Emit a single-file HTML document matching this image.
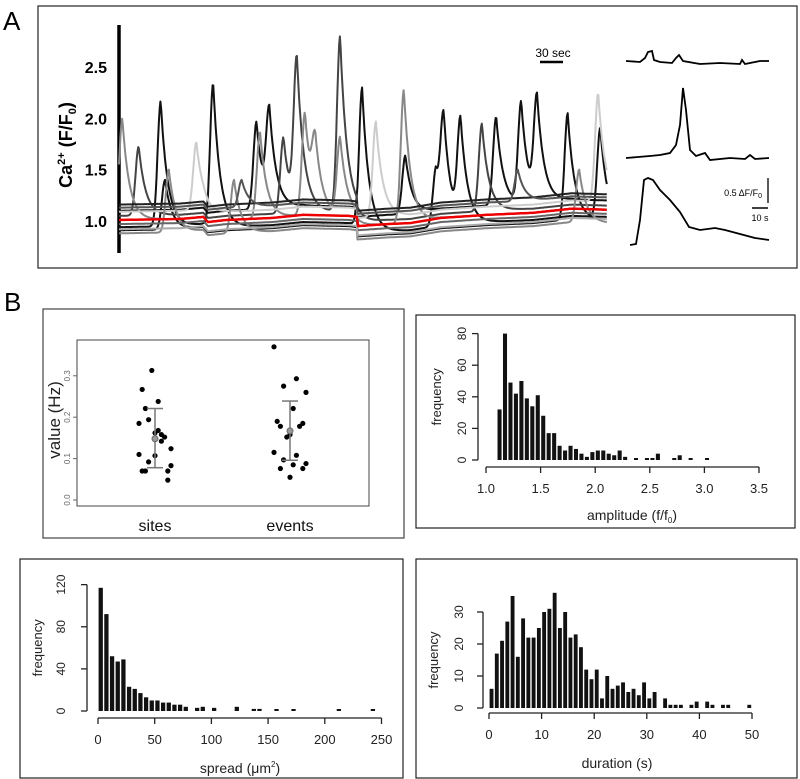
<!DOCTYPE html>
<html><head><meta charset="utf-8"><style>
body{margin:0;background:#fff;}
svg{display:block;font-family:"Liberation Sans",sans-serif;}
</style></head><body>
<svg id="fig" width="800" height="779" viewBox="0 0 800 779">
<text x="3" y="30" font-size="26">A</text>
<rect x="38" y="6" width="759" height="262" fill="none" stroke="#222" stroke-width="1.2"/>
<g id="pa"></g>
<g id="ins"></g>
<text x="553" y="57" font-size="12" text-anchor="middle">30 sec</text>
<line x1="540" y1="62" x2="563" y2="62" stroke="#000" stroke-width="2.5"/>
<text x="762" y="196" font-size="9" text-anchor="end">0.5 ΔF/F<tspan font-size="7" dy="2">0</tspan></text>
<line x1="768" y1="178" x2="768" y2="203" stroke="#000" stroke-width="1.3"/>
<line x1="752" y1="208" x2="768" y2="208" stroke="#000" stroke-width="1.5"/>
<text x="760" y="221" font-size="9" text-anchor="middle">10 s</text>
<text transform="translate(72,145) rotate(-90)" font-size="18" font-weight="bold" text-anchor="middle">Ca<tspan font-size="11" dy="-7">2+</tspan><tspan dy="7"> (F/F</tspan><tspan font-size="11" dy="4">0</tspan><tspan dy="-4">)</tspan></text>

<text x="4" y="311" font-size="26">B</text>
<rect x="43" y="309" width="361" height="229" fill="none" stroke="#444" stroke-width="1.2"/>
<rect x="77" y="340" width="292" height="166" fill="none" stroke="#444" stroke-width="1"/>
<g id="dp"></g>
<text transform="translate(60,420) rotate(-90)" font-size="17" fill="#222" text-anchor="middle">value (Hz)</text>

<rect x="416" y="315" width="379" height="213" fill="none" stroke="#222" stroke-width="1.2"/>
<g id="h1"></g>
<rect x="20" y="559" width="383" height="219" fill="none" stroke="#222" stroke-width="1.2"/>
<g id="h2"></g>
<rect x="416" y="559" width="381" height="219" fill="none" stroke="#222" stroke-width="1.2"/>
<g id="h3"></g>
</svg>
<script>
// ---------- Panel A data ----------
const yTicksA = [1.0, 1.5, 2.0, 2.5];
const redTimes = [0, 80, 110, 116, 140, 200, 240, 300, 310, 311, 350, 380, 420, 480, 540, 590, 636];
const redValues = [1.01, 1.02, 1.04, 0.99, 1.01, 1.03, 1.06, 1.05, 1.04, 0.95, 0.97, 0.98, 1.03, 1.06, 1.08, 1.12, 1.11];
const traceColors = ["#111", "#111", "#111", "#444", "#888", "#ccc", "#888", "#666", "#222", "#aaa", "#555"];
const traceOffsets = [-0.07, 0.09, -0.1, 0.04, 0.0, 0.08, -0.13, -0.04, 0.15, -0.09, 0.12];
const tracePeakTimes = [
  [54.4, 122.8, 317, 413.3, 423.3, 445.3],
  [179.3, 196, 373.4, 491.8, 524.4, 545],
  [585, 627.5, 60],
  [25.7, 214.5, 231.9, 288.3, 473.2],
  [4.4, 183.9, 242.5, 255.8, 288.3, 371.4],
  [100.9, 335, 624.8],
  [65, 150, 600],
  [], [], [], [160, 520]
];
const tracePeakValues = [
  [2.17, 2.35, 2.3, 1.5, 1.9, 1.93],
  [1.97, 2.0, 1.64, 2.02, 2.15, 2.15],
  [2.05, 1.9, 1.4],
  [1.73, 1.82, 2.52, 2.8, 1.95],
  [2.0, 1.87, 2.06, 1.65, 1.8, 2.28],
  [1.77, 1.97, 2.25],
  [1.5, 1.4, 1.5],
  [], [], [], [1.4, 1.5]
];
// ---------- Panel B data ----------
const dotCategories = ["sites", "events"];
const sitesValues = [0.185,0.142,0.092,0.083,0.168,0.07,0.048,0.107,0.07,0.152,0.313,0.11,0.158,0.194,0.124,0.238,0.221,0.07,0.162,0.267];
const eventsValues = [0.37,0.293,0.275,0.26,0.221,0.178,0.185,0.158,0.19,0.178,0.152,0.115,0.108,0.097,0.088,0.085,0.076,0.076,0.055];
const meanValues = [0.148, 0.167];
const errLow = [0.078, 0.096];
const errHigh = [0.221, 0.239];
const dotYTicks = ["0.0", "0.1", "0.2", "0.3"];
const ampBinStart = 1.10, ampBinWidth = 0.05;
const ampCounts = [32,80,49,42,50,39,34,41,28,17,17,9,6,9,7,4,2,5,6,6,4,3,6,2,0,1,0,1,1,4,0,0,1,3,0,1,0,0,1];
const ampXTicks = ["1.0","1.5","2.0","2.5","3.0","3.5"];
const ampYTicks = [0,20,40,60,80];
const spreadBinWidth = 5;
const spreadCounts = [117,92,52,47,49,23,21,17,13,10,10,8,8,6,6,4,0,3,4,0,3,0,0,0,4,0,0,2,2,0,0,0.5,0,0,0.5,0,0,0,0,0,0,0,0.5,0,0,0,0,0,0.5];
const spreadXTicks = [0,50,100,150,200,250];
const spreadYTicks = [0,40,80,120];
const durBinWidth = 1;
const durCounts = [6,17,21,27,35,16,28,22,22,25,30,31,36,25,30,22,23,19,12,9,12,3,10,6,7,8,5,6,4,8,3,5,0,3,1,1,1,0,1,2,0,2,1,0,1,1,0,0,0,1];
const durXTicks = [0,10,20,30,40,50];
const durYTicks = [0,10,20,30];

const NS = "http://www.w3.org/2000/svg";
function mk(parent, tag, attrs, text){
  const e = document.createElementNS(NS, tag);
  for (const k in attrs) e.setAttribute(k, attrs[k]);
  if (text !== undefined) e.textContent = text;
  parent.appendChild(e);
  return e;
}
// ----- Panel A -----
const pa = document.getElementById("pa");
const xA = t => 119 + t * 0.767;
const yA = v => 221 - (v - 1.0) * 102.67;
function redAt(t){
  for (let i = 1; i < redTimes.length; i++){
    if (t <= redTimes[i]){
      const a = redTimes[i-1], b = redTimes[i];
      const f = b === a ? 1 : (t - a) / (b - a);
      return redValues[i-1] + f * (redValues[i] - redValues[i-1]);
    }
  }
  return redValues[redValues.length - 1];
}
const axA = mk(pa, "line", {x1:119, y1:25, x2:119, y2:253, stroke:"#000", "stroke-width":3.5});


yTicksA.forEach(v => {
  const t = mk(pa, "text", {x:107, y:yA(v)+6, "font-size":16, "font-weight":"bold", "text-anchor":"end"}, v.toFixed(1));
  
  
});
traceColors.forEach((col, i) => {
  const pts = [];
  for (let t = 0; t <= 636; t += 1){
    const base = redAt(t) + traceOffsets[i];
    let v = base;
    tracePeakTimes[i].forEach((pt, j) => {
      const h = Math.max(0, tracePeakValues[i][j] - base);
      const d = t - pt;
      const s = d < 0 ? Math.exp(-(d*d)/(2*4*4)) : Math.exp(-d/9);
      v += h * s;
    });
    pts.push(xA(t).toFixed(1) + "," + yA(v).toFixed(1));
  }
  const p = mk(pa, "polyline", {points:pts.join(" "), fill:"none", stroke:col, "stroke-width":2, "stroke-linejoin":"round"});
  
  
});
{
  const pts = [];
  for (let t = 0; t <= 636; t += 2) pts.push(xA(t).toFixed(1) + "," + yA(redAt(t)).toFixed(1));
  const p = mk(pa, "polyline", {points:pts.join(" "), fill:"none", stroke:"#e00", "stroke-width":2.5});
  
  
}
// ----- insets -----
const ins = document.getElementById("ins");
const insetPaths = [
  "M626,61 L640,62 L645,58 L648,52 L652,51 L654,60 L660,62 L672,63 L676,58 L679,55 L683,61 L700,64 L720,63 L740,64 L742,60 L745,64 L755,62 L760,61 L769,61",
  "M626,158 L650,156 L660,155 L670,153 L676,145 L680,125 L683,88 L686,110 L690,150 L696,156 L705,153 L710,160 L730,158 L745,159 L750,155 L755,159 L769,158",
  "M630,245 L636,244 L640,220 L644,180 L648,178 L653,180 L660,190 L670,200 L680,212 L689,227 L700,230 L715,228 L725,230 L740,234 L755,238 L769,240"
];
insetPaths.forEach(d => {
  const p = mk(ins, "path", {d:d, fill:"none", stroke:"#000", "stroke-width":1.8});
  
  
});
// ----- Dot plot -----
const dp = document.getElementById("dp");
const yD = v => 500 - v * 414;
const catX = [155, 290];
dotYTicks.forEach(s => {
  const y = yD(parseFloat(s));
  mk(dp, "line", {x1:73, y1:y, x2:77, y2:y, stroke:"#666"});
  const t = mk(dp, "text", {transform:`translate(70,${y}) rotate(-90)`, "font-size":8, fill:"#666", "text-anchor":"middle"}, s);
  
  
});
dotCategories.forEach((c, i) => {
  const t = mk(dp, "text", {x:catX[i], y:531, "font-size":16, "text-anchor":"middle", fill:"#111"}, c);
  
  
});
function jitter(vals, cx){
  return vals.map((v, k) => cx + ((k * 7) % 11 - 5) * 3.2);
}
[sitesValues, eventsValues].forEach((vals, i) => {
  const xs = jitter(vals, catX[i]);
  vals.forEach((v, k) => {
    const c = mk(dp, "circle", {cx:xs[k], cy:yD(v), r:2.6, fill:"#000"});
    
    
  });
  const cx = catX[i];
  mk(dp, "line", {x1:cx, y1:yD(errLow[i]), x2:cx, y2:yD(errHigh[i]), stroke:"#777", "stroke-width":1.5});
  mk(dp, "line", {x1:cx-8, y1:yD(errLow[i]), x2:cx+8, y2:yD(errLow[i]), stroke:"#777", "stroke-width":1.5});
  mk(dp, "line", {x1:cx-8, y1:yD(errHigh[i]), x2:cx+8, y2:yD(errHigh[i]), stroke:"#777", "stroke-width":1.5});
  const m = mk(dp, "circle", {cx:cx, cy:yD(meanValues[i]), r:3, fill:"#999", stroke:"#666"});
  
  
});
// ----- Histograms -----
function hist(gid, cfg){
  const g = document.getElementById(gid);
  const {x0v, x0, pxPerX, y0, pxPerY, start, width, counts, xTicks, yTicks, axisY, axisX, xlabel, xlabelX, xlabelY, xlabFs, tickFs, ylabX, ytickX} = cfg;
  const X = v => x0 + (v - x0v) * pxPerX;
  const Y = v => y0 - v * pxPerY;
  counts.forEach((c, i) => {
    if (c <= 0) return;
    const xa = X(start + i*width), xb = X(start + (i+1)*width);
    const h = Math.max(2, c * pxPerY);
    const r = mk(g, "rect", {x:xa+0.6, y:y0-h, width:Math.max(1,xb-xa-1.4), height:h, fill:"#111"});
    
    
  });
  const xv = xTicks.map(Number);
  mk(g, "line", {x1:X(xv[0]), y1:axisY, x2:X(xv[xv.length-1]), y2:axisY, stroke:"#222", "stroke-width":1.3});
  xTicks.forEach(s => {
    const x = X(Number(s));
    mk(g, "line", {x1:x, y1:axisY, x2:x, y2:axisY+6, stroke:"#222", "stroke-width":1.3});
    const t = mk(g, "text", {x:x, y:axisY+26, "font-size":tickFs, "text-anchor":"middle", fill:"#222"}, s);
    
    
  });
  mk(g, "line", {x1:axisX, y1:Y(yTicks[0]), x2:axisX, y2:Y(yTicks[yTicks.length-1]), stroke:"#222", "stroke-width":1.3});
  yTicks.forEach(v => {
    const y = Y(v);
    mk(g, "line", {x1:axisX-6, y1:y, x2:axisX, y2:y, stroke:"#222", "stroke-width":1.3});
    const t = mk(g, "text", {transform:`translate(${ytickX},${y}) rotate(-90)`, "font-size":12, "text-anchor":"middle", fill:"#222"}, String(v));
    
    
  });
  const yl = mk(g, "text", {transform:`translate(${ylabX},${(Y(yTicks[0])+Y(yTicks[yTicks.length-1]))/2}) rotate(-90)`, "font-size":13, "text-anchor":"middle", fill:"#222"}, "frequency");
  
  
  const xl = mk(g, "text", {x:xlabelX, y:xlabelY, "font-size":xlabFs, "text-anchor":"middle", fill:"#222"});
  xl.innerHTML = xlabel;
  
  
}
hist("h1", {x0v:1.0, x0:486, pxPerX:109.2, y0:460, pxPerY:1.58, start:ampBinStart, width:ampBinWidth, counts:ampCounts,
  xTicks:ampXTicks, yTicks:ampYTicks, axisY:467, axisX:478, xlabel:'amplitude (f/f<tspan font-size="8" dy="3">0</tspan><tspan dy="-3">)</tspan>',
  xlabelX:632, xlabelY:520, xlabFs:14, tickFs:13, ylabX:441, ytickX:466});
hist("h2", {x0v:0, x0:98, pxPerX:1.134, y0:711, pxPerY:1.053, start:0, width:spreadBinWidth, counts:spreadCounts,
  xTicks:spreadXTicks.map(String), yTicks:spreadYTicks, axisY:718, axisX:87, xlabel:'spread (μm<tspan font-size="8" dy="-6">2</tspan><tspan dy="6">)</tspan>',
  xlabelX:240, xlabelY:773, xlabFs:14, tickFs:13, ylabX:42, ytickX:65});
hist("h3", {x0v:0, x0:489, pxPerX:5.26, y0:708, pxPerY:3.2, start:0, width:durBinWidth, counts:durCounts,
  xTicks:durXTicks.map(String), yTicks:durYTicks, axisY:713, axisX:483, xlabel:'duration (s)',
  xlabelX:617, xlabelY:768, xlabFs:14, tickFs:13, ylabX:438, ytickX:463});
</script>
</body></html>
